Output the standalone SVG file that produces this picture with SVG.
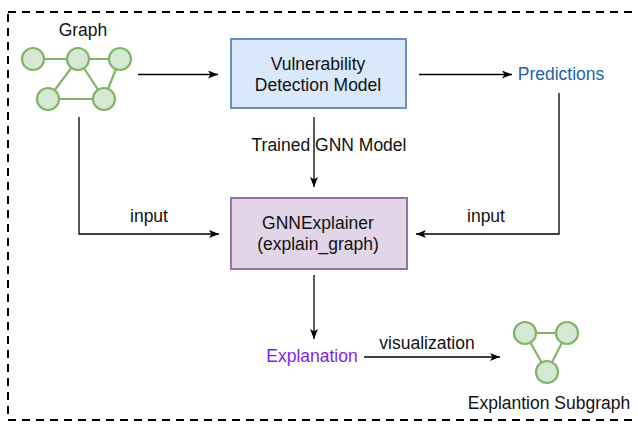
<svg xmlns="http://www.w3.org/2000/svg" width="638" height="424" viewBox="0 0 638 424">
  <style>
    text { font-family: "Liberation Sans", Arial, sans-serif; font-size: 17.5px; fill: #111; text-anchor: middle; }
    .edge { fill: none; stroke: #000; stroke-width: 1.3; marker-end: url(#arrow); }
    .gnode { fill: #d5e8d4; stroke: #82b366; stroke-width: 2.2; }
    .glink { stroke: #82b366; stroke-width: 2.2; fill: none; }
    .frame { fill: none; stroke: #000; stroke-width: 2; stroke-dasharray: 8 6; }
  </style>
  <defs>
    <marker id="arrow" viewBox="0 0 10 8" refX="10" refY="4" markerWidth="10" markerHeight="8" markerUnits="userSpaceOnUse" orient="auto">
      <path d="M0,0 L10,4 L0,8 L2.5,4 Z" fill="#000"/>
    </marker>
  </defs>

  <rect class="frame" x="8" y="12" width="640" height="408"/>

  <!-- input graph -->
  <g id="graph">
    <text x="83" y="36">Graph</text>
    <line class="glink" x1="33" y1="59" x2="120" y2="59"/>
    <line class="glink" x1="78" y1="59" x2="48" y2="99"/>
    <line class="glink" x1="78" y1="59" x2="104" y2="99"/>
    <line class="glink" x1="120" y1="59" x2="104" y2="99"/>
    <line class="glink" x1="48" y1="99" x2="104" y2="99"/>
    <circle class="gnode" cx="33" cy="59" r="11"/>
    <circle class="gnode" cx="78" cy="59" r="11"/>
    <circle class="gnode" cx="120" cy="59" r="11"/>
    <circle class="gnode" cx="48" cy="99" r="11"/>
    <circle class="gnode" cx="104" cy="99" r="11"/>
  </g>

  <g id="model">
    <rect x="231" y="39" width="175" height="69" fill="#dae8fc" stroke="#6c8ebf" stroke-width="2"/>
    <text x="318" y="70">Vulnerability</text>
    <text x="318" y="91">Detection Model</text>
  </g>

  <g id="predictions">
    <text x="561" y="80" fill="#1f5fab" style="fill:#1f5fab">Predictions</text>
  </g>

  <g id="explainer">
    <rect x="231" y="198" width="176" height="71" fill="#e1d5e7" stroke="#9673a6" stroke-width="2"/>
    <text x="318" y="229">GNNExplainer</text>
    <text x="318" y="250">(explain_graph)</text>
  </g>

  <g id="explanation">
    <text x="312" y="362" style="fill:#7f1fe0">Explanation</text>
  </g>

  <!-- explanation subgraph -->
  <g id="subgraph">
    <line class="glink" x1="525" y1="333" x2="567" y2="333"/>
    <line class="glink" x1="525" y1="333" x2="547" y2="372"/>
    <line class="glink" x1="567" y1="333" x2="547" y2="372"/>
    <circle class="gnode" cx="525" cy="333" r="11"/>
    <circle class="gnode" cx="567" cy="333" r="11"/>
    <circle class="gnode" cx="547" cy="372" r="11"/>
    <text x="549" y="409">Explantion Subgraph</text>
  </g>

  <g id="connectors">
    <path class="edge" d="M138,74.5 H218"/>
    <path class="edge" d="M419,74.5 H512"/>
    <path class="edge" d="M314,117 V187"/>
    <text x="329" y="151">Trained GNN Model</text>
    <path class="edge" d="M79,117 V234 H219"/>
    <text x="149" y="222">input</text>
    <path class="edge" d="M559,93 V234 H416"/>
    <text x="486" y="222">input</text>
    <path class="edge" d="M314,275 V339"/>
    <path class="edge" d="M364,357 H500"/>
    <text x="427" y="349">visualization</text>
  </g>
</svg>
